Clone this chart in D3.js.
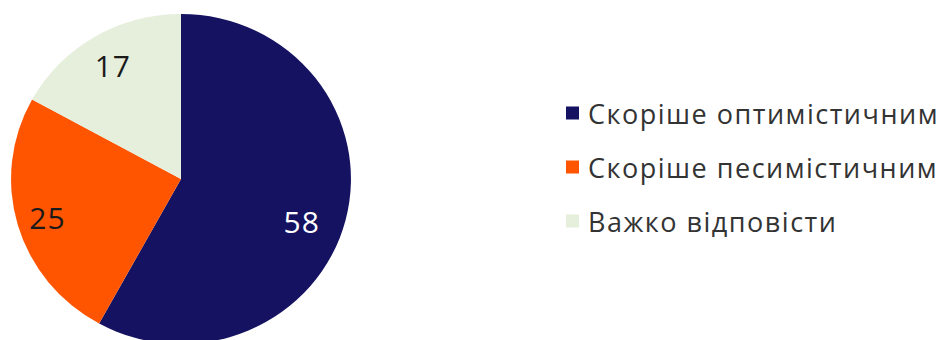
<!DOCTYPE html>
<html>
<head>
<meta charset="utf-8">
<script src="https://cdn.jsdelivr.net/npm/d3@7"></script>
<style>
  html, body { margin: 0; padding: 0; background: #ffffff; }
  svg { display: block; }
</style>
</head>
<body>
<svg id="chart" width="937" height="340"></svg>
<script>
// Survey answer shares, in percent
const categories = ["Скоріше оптимістичним", "Скоріше песимістичним", "Важко відповісти"];
const values = [58, 25, 17];
const colors = ["#151262", "#FF5500", "#E6EEDC"];
const labelColors = ["#ffffff", "#1a1a1a", "#1a1a1a"];

const svg = d3.select("#chart");

const cx = 181, cy = 179;
const radius = 165;
const stretchX = 1.03;
const fontFamily = "'Open Sans', 'Noto Sans', sans-serif";

const pie = d3.pie().sort(null).value(d => d.value);
const data = pie(categories.map((c, i) => ({ name: c, value: values[i], i })));

const arc = d3.arc().innerRadius(0).outerRadius(radius);
const labelArc = d3.arc().innerRadius(130).outerRadius(130);
// small hand nudges for label placement, per slice
const labelNudge = [[-9, 10], [-5, 2], [0, -2]];

const g = svg.append("g")
  .attr("transform", `translate(${cx},${cy}) scale(${stretchX},1)`);

g.selectAll("path.slice")
  .data(data)
  .join("path")
  .attr("class", "slice")
  .attr("d", arc)
  .attr("fill", d => colors[d.data.i]);

// Value labels placed on the slices
svg.append("g")
  .selectAll("text")
  .data(data)
  .join("text")
  .attr("x", d => cx + labelArc.centroid(d)[0] * stretchX + labelNudge[d.data.i][0])
  .attr("y", d => cy + labelArc.centroid(d)[1] + labelNudge[d.data.i][1])
  .attr("text-anchor", "middle")
  .attr("dominant-baseline", "central")
  .attr("font-family", fontFamily)
  .attr("font-size", 30)
  .attr("letter-spacing", 1)
  .attr("fill", d => labelColors[d.data.i])
  .text(d => d.data.value);

// Legend
const legendX = 566, legendY0 = 113, legendStep = 54;
const legend = svg.append("g");
const rows = legend.selectAll("g")
  .data(categories)
  .join("g")
  .attr("transform", (d, i) => `translate(${legendX},${legendY0 + i * legendStep})`);

rows.append("rect")
  .attr("x", 0).attr("y", -6.5)
  .attr("width", 13).attr("height", 13)
  .attr("fill", (d, i) => colors[i]);

rows.append("text")
  .attr("x", 22)
  .attr("y", 0)
  .attr("dominant-baseline", "central")
  .attr("font-family", fontFamily)
  .attr("font-size", 27)
  .attr("letter-spacing", 1.5)
  .attr("fill", "#333333")
  .text(d => d);
</script>
</body>
</html>
